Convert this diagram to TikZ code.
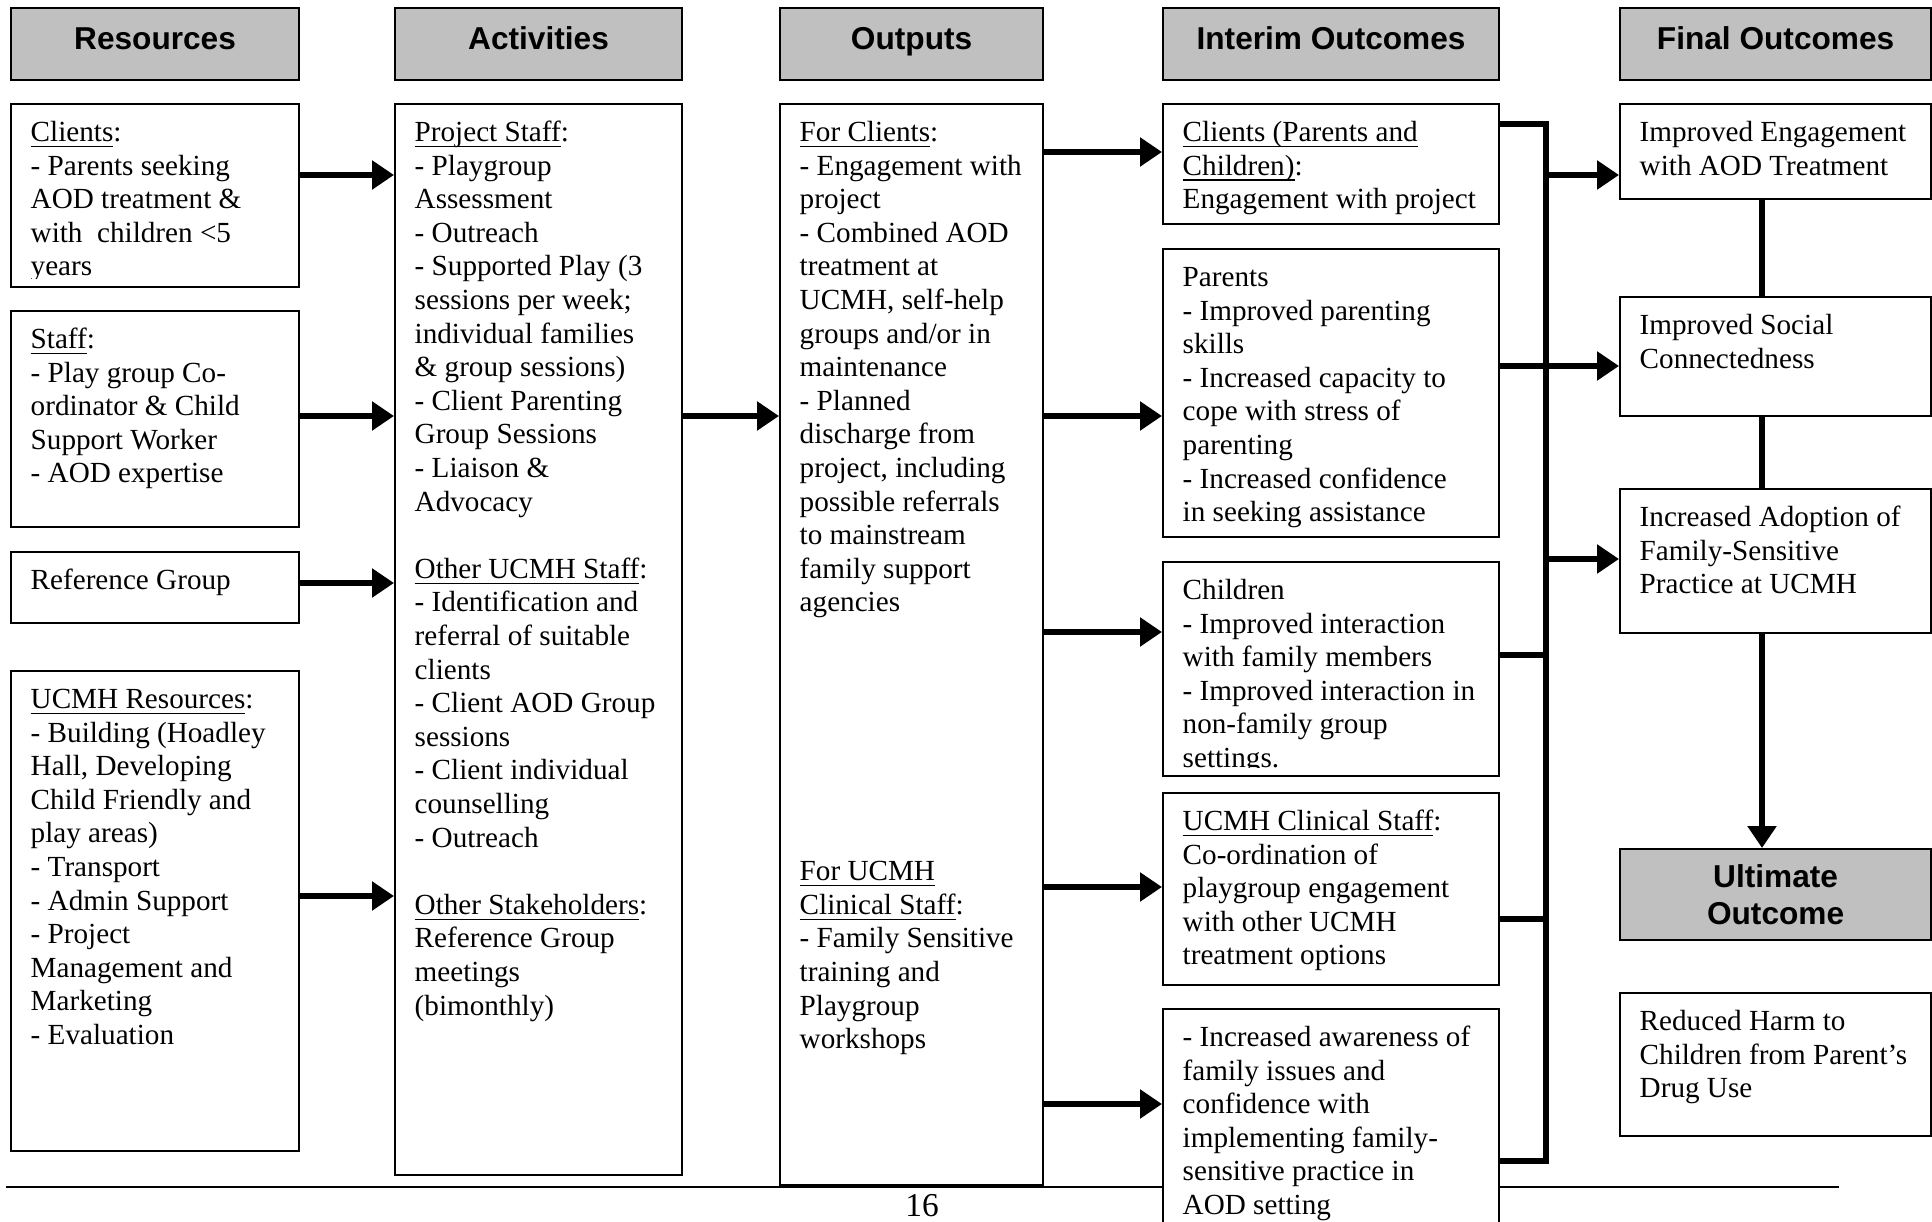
\documentclass[tikz,border=0pt]{standalone}
\usepackage{fontspec}
\setmainfont{Liberation Serif}
\newfontfamily\hdsans{Liberation Sans}
\usetikzlibrary{arrows.meta}
\definecolor{hdgray}{RGB}{192,192,192}
\newcommand{\undl}[1]{\underline{\smash{#1}}}

\begin{document}
\begin{tikzpicture}[
    hdr/.style={draw,fill=hdgray,line width=0.6pt,anchor=north west,inner sep=0pt,
      font=\hdsans\bfseries\fontsize{9}{10.5}\selectfont,align=center},
    box/.style={draw,fill=white,line width=0.6pt,anchor=north west,inner sep=0pt},
    txt/.style={anchor=north west,inner sep=0pt,align=left,text width=3.1cm,
      font=\fontsize{8.3}{9.56}\selectfont,xshift=0.20cm,yshift=-0.168cm,
      execute at begin node={\spaceskip=0pt \xspaceskip=0pt \rule{0pt}{6pt}}},
    link/.style={line width=1.8pt},
    arr/.style={link,-{Triangle[length=0.22cm,width=0.28cm]}}
  ]
  \useasboundingbox (0,0) rectangle (19.32,-12.22);

  % page rule and number
  \draw[line width=0.6pt] (0.06,-11.87) -- (18.39,-11.87);
  \node[font=\fontsize{9.5}{11}\selectfont] (pg) at (9.22,-12.06) {16};

  % column headers
  \node[hdr,minimum width=2.88cm,minimum height=0.72cm,text height=0.23cm,text depth=0.12cm] (h1) at (0.10,-0.07) {Resources};
  \node[hdr,minimum width=2.87cm,minimum height=0.72cm,text height=0.23cm,text depth=0.12cm] (h2) at (3.94,-0.07) {Activities};
  \node[hdr,minimum width=2.63cm,minimum height=0.72cm,text height=0.23cm,text depth=0.12cm] (h3) at (7.79,-0.07) {Outputs};
  \node[hdr,minimum width=3.36cm,minimum height=0.72cm,text height=0.23cm,text depth=0.12cm] (h4) at (11.62,-0.07) {Interim Outcomes};
  \node[hdr,minimum width=3.11cm,minimum height=0.72cm,text height=0.23cm,text depth=0.12cm] (h5) at (16.19,-0.07) {Final Outcomes};

  % resources
  \node[box,minimum width=2.88cm,minimum height=1.83cm] (cli) at (0.10,-1.03) {};
  \begin{scope}
    \clip ([yshift=0.10cm]cli.south west) rectangle (cli.north east);
    \node[txt] at (cli.north west) {\undl{Clients}:\\- Parents seeking\\AOD treatment \&\\with~ children <5\\years};
  \end{scope}
  \node[box,minimum width=2.88cm,minimum height=2.16cm] (stf) at (0.10,-3.10) {};
  \node[txt] at (stf.north west) {\undl{Staff}:\\- Play group Co-\\ordinator \& Child\\Support Worker\\- AOD expertise};
  \node[box,minimum width=2.88cm,minimum height=0.71cm] (ref) at (0.10,-5.51) {};
  \node[txt] at (ref.north west) {Reference Group};
  \node[box,minimum width=2.88cm,minimum height=4.80cm] (ucm) at (0.10,-6.70) {};
  \node[txt] at (ucm.north west) {\undl{UCMH Resources}:\\- Building (Hoadley\\Hall, Developing\\Child Friendly and\\play areas)\\- Transport\\- Admin Support\\- Project\\Management and\\Marketing\\- Evaluation};

  % activities
  \node[box,minimum width=2.87cm,minimum height=10.71cm] (act) at (3.94,-1.03) {};
  \node[txt] at (act.north west) {\undl{Project Staff}:\\- Playgroup\\Assessment\\- Outreach\\- Supported Play (3\\sessions per week;\\individual families\\\& group sessions)\\- Client Parenting\\Group Sessions\\- Liaison \&\\Advocacy\\[9.56pt]
    \undl{Other UCMH Staff}:\\- Identification and\\referral of suitable\\clients\\- Client AOD Group\\sessions\\- Client individual\\counselling\\- Outreach\\[9.56pt]
    \undl{Other Stakeholders}:\\Reference Group\\meetings\\(bimonthly)};

  % outputs
  \node[box,minimum width=2.63cm,minimum height=10.81cm] (out) at (7.79,-1.03) {};
  \node[txt] at (out.north west) {\undl{For Clients}:\\- Engagement with\\project\\- Combined AOD\\treatment at\\UCMH, self-help\\groups and/or in\\maintenance\\- Planned\\discharge from\\project, including\\possible referrals\\to mainstream\\family support\\agencies\\[66.92pt]
    \undl{For UCMH}\\\undl{Clinical Staff}:\\- Family Sensitive\\training and\\Playgroup\\workshops};

  % interim outcomes
  \node[box,minimum width=3.36cm,minimum height=1.20cm] (int1) at (11.62,-1.03) {};
  \begin{scope}
    \clip ([yshift=0.10cm]int1.south west) rectangle (int1.north east);
    \node[txt] at (int1.north west) {\undl{Clients (Parents and}\\\undl{Children)}:\\Engagement with project};
  \end{scope}
  \node[box,minimum width=3.36cm,minimum height=2.88cm] (int2) at (11.62,-2.48) {};
  \begin{scope}
    \clip ([yshift=0.10cm]int2.south west) rectangle (int2.north east);
    \node[txt] at (int2.north west) {Parents\\- Improved parenting\\skills\\- Increased capacity to\\cope with stress of\\parenting\\- Increased confidence\\in seeking assistance};
  \end{scope}
  \node[box,minimum width=3.36cm,minimum height=2.14cm] (int3) at (11.62,-5.61) {};
  \begin{scope}
    \clip ([yshift=0.10cm]int3.south west) rectangle (int3.north east);
    \node[txt] at (int3.north west) {Children\\- Improved interaction\\with family members\\- Improved interaction in\\non-family group\\settings.};
  \end{scope}
  \node[box,minimum width=3.36cm,minimum height=1.92cm] (int4) at (11.62,-7.92) {};
  \node[txt] at (int4.north west) {\undl{UCMH Clinical Staff}:\\Co-ordination of\\playgroup engagement\\with other UCMH\\treatment options};
  \node[box,minimum width=3.36cm,minimum height=2.40cm] (int5) at (11.62,-10.08) {};
  \node[txt] at (int5.north west) {- Increased awareness of\\family issues and\\confidence with\\implementing family-\\sensitive practice in\\AOD setting};

  % final outcomes
  \node[box,minimum width=3.11cm,minimum height=0.95cm] (fin1) at (16.19,-1.03) {};
  \node[txt] at (fin1.north west) {Improved Engagement\\with AOD Treatment};
  \node[box,minimum width=3.11cm,minimum height=1.19cm] (fin2) at (16.19,-2.96) {};
  \node[txt] at (fin2.north west) {Improved Social\\Connectedness};
  \node[box,minimum width=3.11cm,minimum height=1.44cm] (fin3) at (16.19,-4.88) {};
  \node[txt] at (fin3.north west) {Increased Adoption of\\Family-Sensitive\\Practice at UCMH};
  \node[hdr,minimum width=3.11cm,minimum height=0.91cm] (ult) at (16.19,-8.48) {Ultimate\\Outcome};
  \node[box,minimum width=3.11cm,minimum height=1.43cm] (red) at (16.19,-9.92) {};
  \node[txt] at (red.north west) {Reduced Harm to\\Children from Parent's\\Drug Use};

  % resources to activities
  \draw[arr] (cli.east |- 0,-1.75) -- (act.west |- 0,-1.75);
  \draw[arr] (stf.east |- 0,-4.16) -- (act.west |- 0,-4.16);
  \draw[arr] (ref.east |- 0,-5.83) -- (act.west |- 0,-5.83);
  \draw[arr] (ucm.east |- 0,-8.96) -- (act.west |- 0,-8.96);

  % activities to outputs
  \draw[arr] (act.east |- 0,-4.16) -- (out.west |- 0,-4.16);

  % outputs to interim outcomes
  \draw[arr] (out.east |- 0,-1.52) -- (int1.west |- 0,-1.52);
  \draw[arr] (out.east |- 0,-4.16) -- (int2.west |- 0,-4.16);
  \draw[arr] (out.east |- 0,-6.32) -- (int3.west |- 0,-6.32);
  \draw[arr] (out.east |- 0,-8.87) -- (int4.west |- 0,-8.87);
  \draw[arr] (out.east |- 0,-11.04) -- (int5.west |- 0,-11.04);

  % collecting bar
  \coordinate (bt) at (15.46,-1.24);
  \coordinate (bb) at (15.46,-11.61);
  \draw[link] (int1.east |- bt) -- (bt) -- (bb) -- (int5.east |- bb);
  \draw[link] (int3.east |- 0,-6.55) -- (bt |- 0,-6.55);
  \draw[link] (int4.east |- 0,-9.19) -- (bt |- 0,-9.19);
  \draw[arr] (int2.east |- 0,-3.66) -- (fin2.west |- 0,-3.66);
  \draw[arr] (bt |- 0,-1.75) -- (fin1.west |- 0,-1.75);
  \draw[arr] (bt |- 0,-5.59) -- (fin3.west |- 0,-5.59);

  % final outcomes chain
  \draw[link] (fin1.south -| 17.62,0) -- (fin2.north -| 17.62,0);
  \draw[link] (fin2.south -| 17.62,0) -- (fin3.north -| 17.62,0);
  \draw[arr] (fin3.south -| 17.62,0) -- (ult.north -| 17.62,0);
\end{tikzpicture}
\end{document}
